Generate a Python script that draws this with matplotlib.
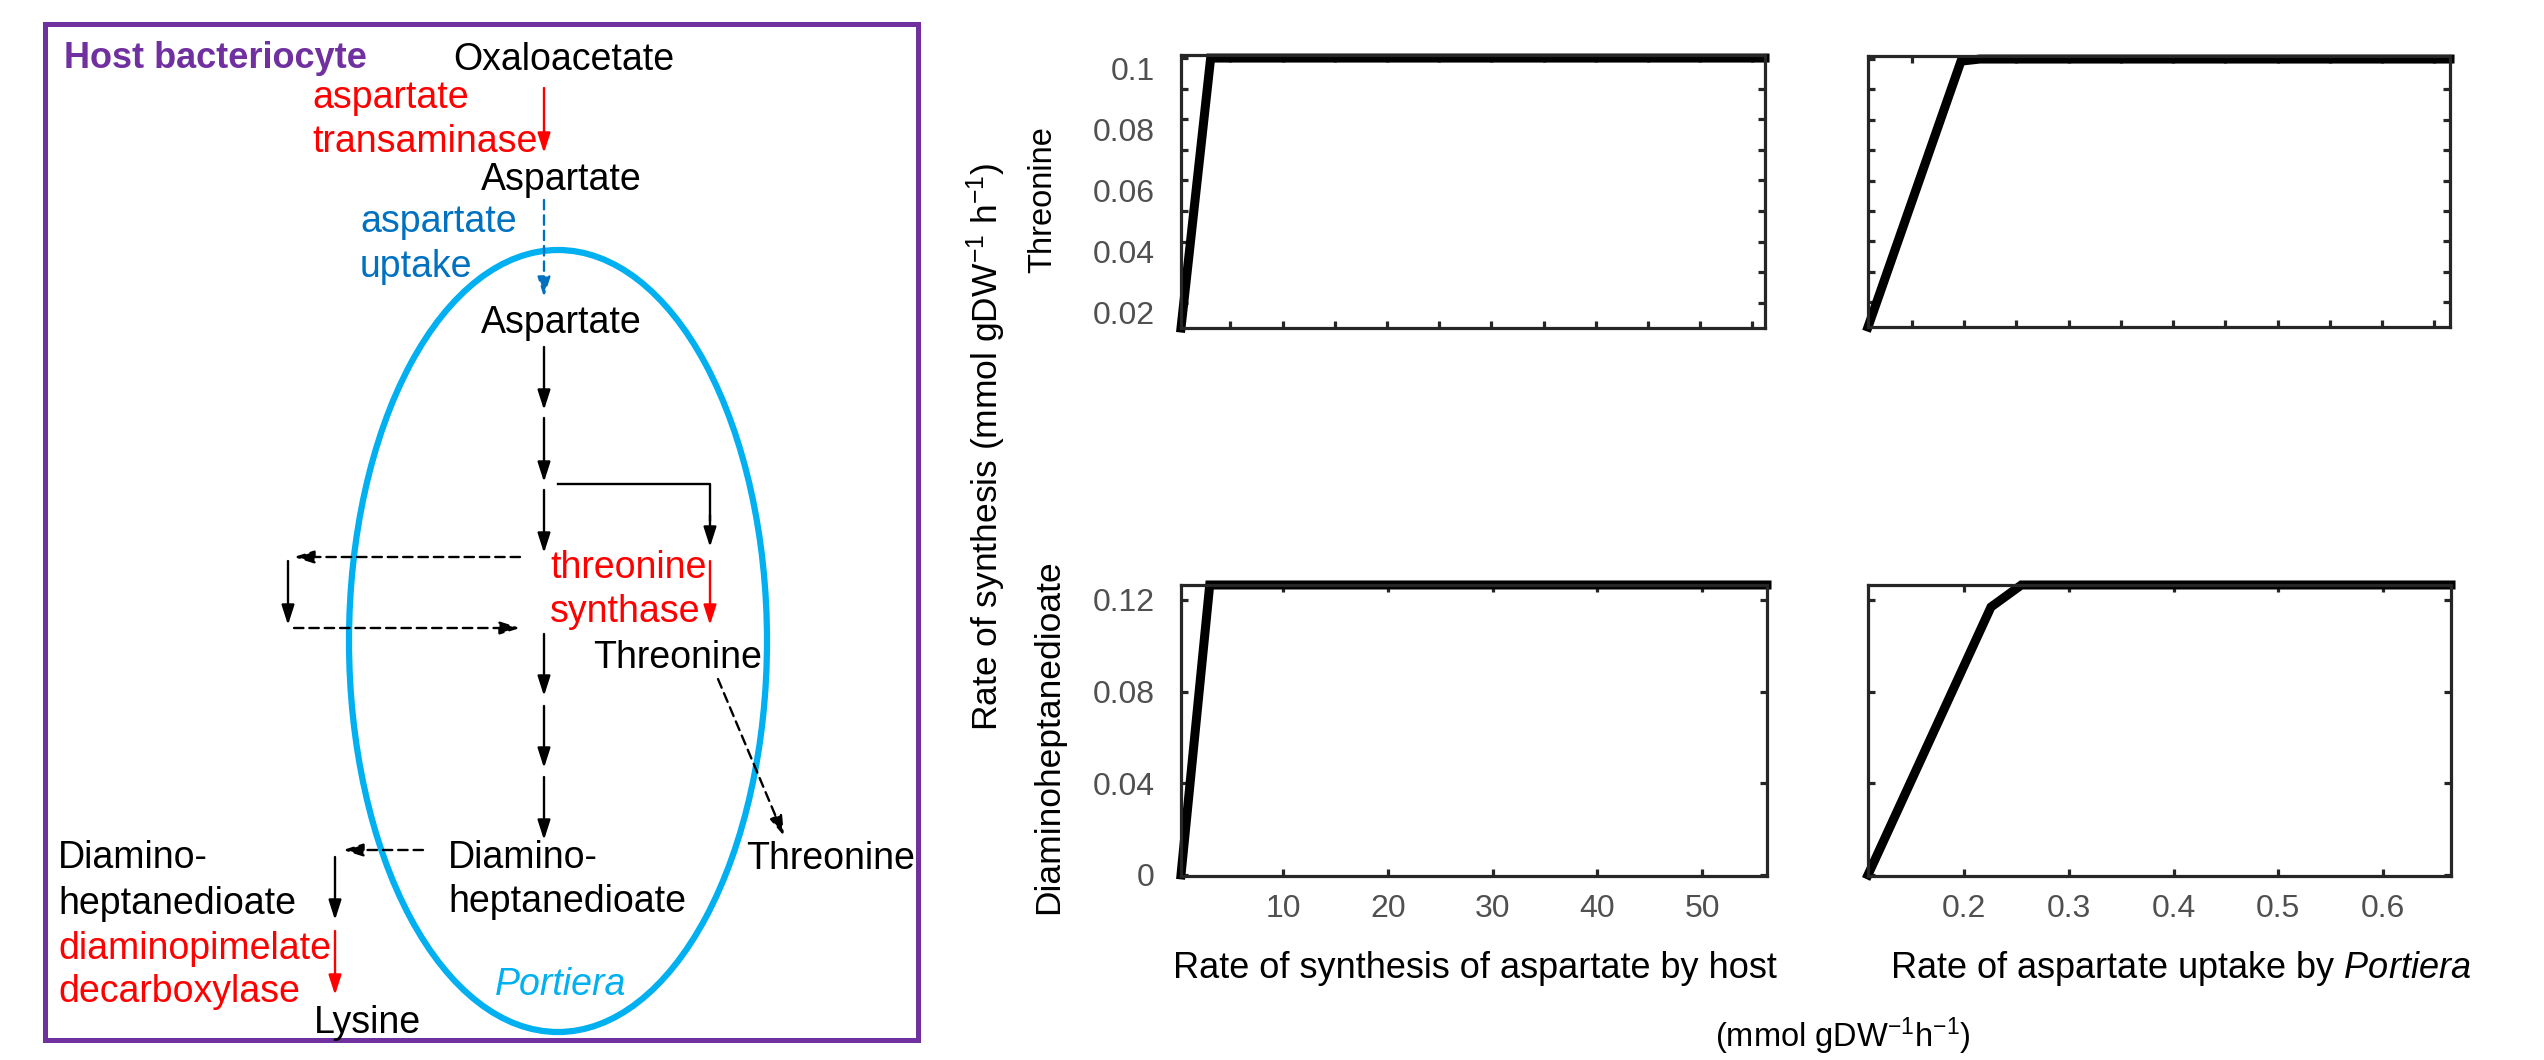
import matplotlib
matplotlib.use("Agg")
import matplotlib.pyplot as plt
from matplotlib.patches import Ellipse, Rectangle
from matplotlib.transforms import ScaledTranslation

plt.rcParams['font.family'] = ['Liberation Sans', 'DejaVu Sans']
plt.rcParams['mathtext.fontset'] = 'custom'
plt.rcParams['mathtext.rm'] = 'Liberation Sans'
plt.rcParams['mathtext.it'] = 'Liberation Sans:italic'
plt.rcParams['mathtext.bf'] = 'Liberation Sans:bold'

# ---------------- data ----------------
host_x_thr = [0.26, 3.1, 56.2]
thr_by_host = [0.0118, 0.1, 0.1]
host_x_dap = [0.26, 3.0, 56.2]
dap_by_host = [0.0, 0.1265, 0.1265]
upt_x_thr = [0.108, 0.197, 0.215, 0.665]
thr_by_upt = [0.0118, 0.0993, 0.1, 0.1]
upt_x_dap = [0.108, 0.2255, 0.2545, 0.665]
dap_by_upt = [0.0, 0.1169, 0.1265, 0.1265]

thr_yticks = [0.02, 0.04, 0.06, 0.08, 0.1]
thr_yticklabels = ["0.02", "0.04", "0.06", "0.08", "0.1"]
thr_yminor = [0.03, 0.05, 0.07, 0.09]
dap_yticks = [0, 0.04, 0.08, 0.12]
dap_yticklabels = ["0", "0.04", "0.08", "0.12"]
host_xticks_top = [5, 10, 15, 20, 25, 30, 35, 40, 45, 50, 55]
host_xticks = [10, 20, 30, 40, 50]
host_xticklabels = ["10", "20", "30", "40", "50"]
upt_xticks_top = [0.15, 0.2, 0.25, 0.3, 0.35, 0.4, 0.45, 0.5, 0.55, 0.6, 0.65]
upt_xticks = [0.2, 0.3, 0.4, 0.5, 0.6]
upt_xticklabels = ["0.2", "0.3", "0.4", "0.5", "0.6"]

W, H = 2544, 1060
fig = plt.figure(figsize=(W / 100, H / 100), dpi=100)

PURPLE = '#7030A0'
RED = '#FF0000'
BLUE = '#0070C0'
CYAN = '#00B0F0'
SPINE = '#262626'
TICKC = '#505050'

# ---------------- diagram overlay ----------------
ov = fig.add_axes([0, 0, 1, 1])
ov.set_xlim(0, W)
ov.set_ylim(H, 0)
ov.axis('off')
ov.patch.set_alpha(0)

ov.add_patch(Rectangle((45, 24), 873, 1016, fill=False, edgecolor=PURPLE, lw=3.6))
ov.add_patch(Ellipse((558, 641), 418, 782, fill=False, edgecolor=CYAN, lw=4.5))

FS = 27
texts = [
    (453, 60, "Oxaloacetate", 'k', 'normal'),
    (312, 98, "aspartate", RED, 'normal'),
    (312, 142, "transaminase", RED, 'normal'),
    (481, 180, "Aspartate", 'k', 'normal'),
    (360, 222, "aspartate", BLUE, 'normal'),
    (360, 267, "uptake", BLUE, 'normal'),
    (481, 323, "Aspartate", 'k', 'normal'),
    (550, 568, "threonine", RED, 'normal'),
    (550, 612, "synthase", RED, 'normal'),
    (593, 658, "Threonine", 'k', 'normal'),
    (746, 859, "Threonine", 'k', 'normal'),
    (448, 858, "Diamino-", 'k', 'normal'),
    (448, 902, "heptanedioate", 'k', 'normal'),
    (58, 858, "Diamino-", 'k', 'normal'),
    (58, 904, "heptanedioate", 'k', 'normal'),
    (58, 949, "diaminopimelate", RED, 'normal'),
    (58, 992, "decarboxylase", RED, 'normal'),
    (495, 985, "Portiera", CYAN, 'italic'),
    (314, 1023, "Lysine", 'k', 'normal'),
]
for x, y, s, c, st in texts:
    ov.text(x, y, s, color=c, fontsize=FS, style=st, ha='left', va='center')
ov.text(64, 58, "Host bacteriocyte", color=PURPLE, fontsize=26, fontweight='bold',
        ha='left', va='center')

DASH = (0, (4, 2.5))


def arrow(p0, p1, color='k', ls='-'):
    ov.annotate('', xy=p1, xytext=p0,
                arrowprops=dict(arrowstyle='-|>,head_length=1.0,head_width=0.32',
                                lw=1.7, color=color, linestyle=ls,
                                shrinkA=0, shrinkB=0, mutation_scale=12))


arrow((544, 88), (544, 153), RED)
arrow((544, 200), (544, 297), BLUE, DASH)
arrow((544, 347), (544, 410))
arrow((544, 418), (544, 482))
arrow((544, 490), (544, 553))
ov.plot([558, 710, 710], [484, 484, 520], color='k', lw=1.7)
arrow((710, 515), (710, 547))
arrow((520, 557), (294, 557), 'k', DASH)
arrow((288, 561), (288, 625))
arrow((294, 628), (520, 628), 'k', DASH)
arrow((710, 561), (710, 625), RED)
arrow((544, 634), (544, 696))
arrow((544, 706), (544, 768))
arrow((544, 777), (544, 840))
arrow((718, 679), (784, 836), 'k', DASH)
arrow((423, 850), (343, 850), 'k', DASH)
arrow((335, 857), (335, 920))
arrow((335, 931), (335, 995), RED)

# rotated / axis labels
ov.text(986, 447, r"Rate of synthesis (mmol gDW$^{-1}$ h$^{-1}$)", rotation=90,
        fontsize=25.5, ha='center', va='center')
ov.text(1043, 200, "Threonine", rotation=90, fontsize=23.5, ha='center', va='center')
ov.text(1049, 737, "Diaminoheptanedioate", rotation=90, fontsize=25.5, ha='center', va='center')
ov.text(1475, 969, "Rate of synthesis of aspartate by host", fontsize=26,
        ha='center', va='center')
ov.text(2181, 968, r"Rate of aspartate uptake by $\mathit{Portiera}$", fontsize=26,
        ha='center', va='center')
ov.text(1843, 1036, r"(mmol gDW$^{-1}$h$^{-1}$)", fontsize=23.5, ha='center', va='center')


# ---------------- plots ----------------
def axpos(l, r, t, b):
    return [l / W, 1 - b / H, (r - l) / W, (b - t) / H]


def style(ax):
    for sp in ax.spines.values():
        sp.set_color(SPINE)
        sp.set_linewidth(2.3)
    ax.tick_params(which='both', direction='in', top=True, right=True,
                   length=5, width=2.3, color=SPINE, labelcolor=TICKC,
                   labelsize=23)
    ax.tick_params(axis='y', pad=19)
    ax.tick_params(axis='x', pad=13)


axTL = fig.add_axes(axpos(1181, 1765, 55, 328))
axBL = fig.add_axes(axpos(1181, 1767, 585, 876))
axTR = fig.add_axes(axpos(1868, 2450, 56, 327))
axBR = fig.add_axes(axpos(1868, 2451, 585, 876))

for ax in (axTL, axBL, axTR, axBR):
    style(ax)

axTL.plot(host_x_thr, thr_by_host, color='k', lw=6.5, clip_on=False, solid_joinstyle='miter')
axTL.set_xlim(0.26, 56.2)
axTL.set_ylim(0.0118, 0.101)
axTL.set_xticks(host_xticks_top)
axTL.set_xticklabels([])
axTL.set_yticks(thr_yticks)
axTL.set_yticklabels(thr_yticklabels)
axTL.set_yticks(thr_yminor, minor=True)
for lab in axTL.get_yticklabels():
    lab.set_transform(lab.get_transform() + ScaledTranslation(0, -0.10, fig.dpi_scale_trans))

axTR.plot(upt_x_thr, thr_by_upt, color='k', lw=6.5, clip_on=False, solid_joinstyle='miter')
axTR.set_xlim(0.108, 0.665)
axTR.set_ylim(0.0118, 0.101)
axTR.set_xticks(upt_xticks_top)
axTR.set_xticklabels([])
axTR.set_yticks(thr_yticks)
axTR.set_yticks(thr_yminor, minor=True)
axTR.set_yticklabels([])

axBL.plot(host_x_dap, dap_by_host, color='k', lw=6.5, clip_on=False, solid_joinstyle='miter')
axBL.set_xlim(0.26, 56.2)
axBL.set_ylim(-0.0005, 0.1265)
axBL.set_xticks(host_xticks)
axBL.set_xticklabels(host_xticklabels)
axBL.set_yticks(dap_yticks)
axBL.set_yticklabels(dap_yticklabels)

axBR.plot(upt_x_dap, dap_by_upt, color='k', lw=6.5, clip_on=False, solid_joinstyle='miter')
axBR.set_xlim(0.108, 0.665)
axBR.set_ylim(-0.0005, 0.1265)
axBR.set_xticks(upt_xticks)
axBR.set_xticklabels(upt_xticklabels)
axBR.set_yticks(dap_yticks)
axBR.set_yticklabels([])

fig.savefig('out.png', dpi=100)
